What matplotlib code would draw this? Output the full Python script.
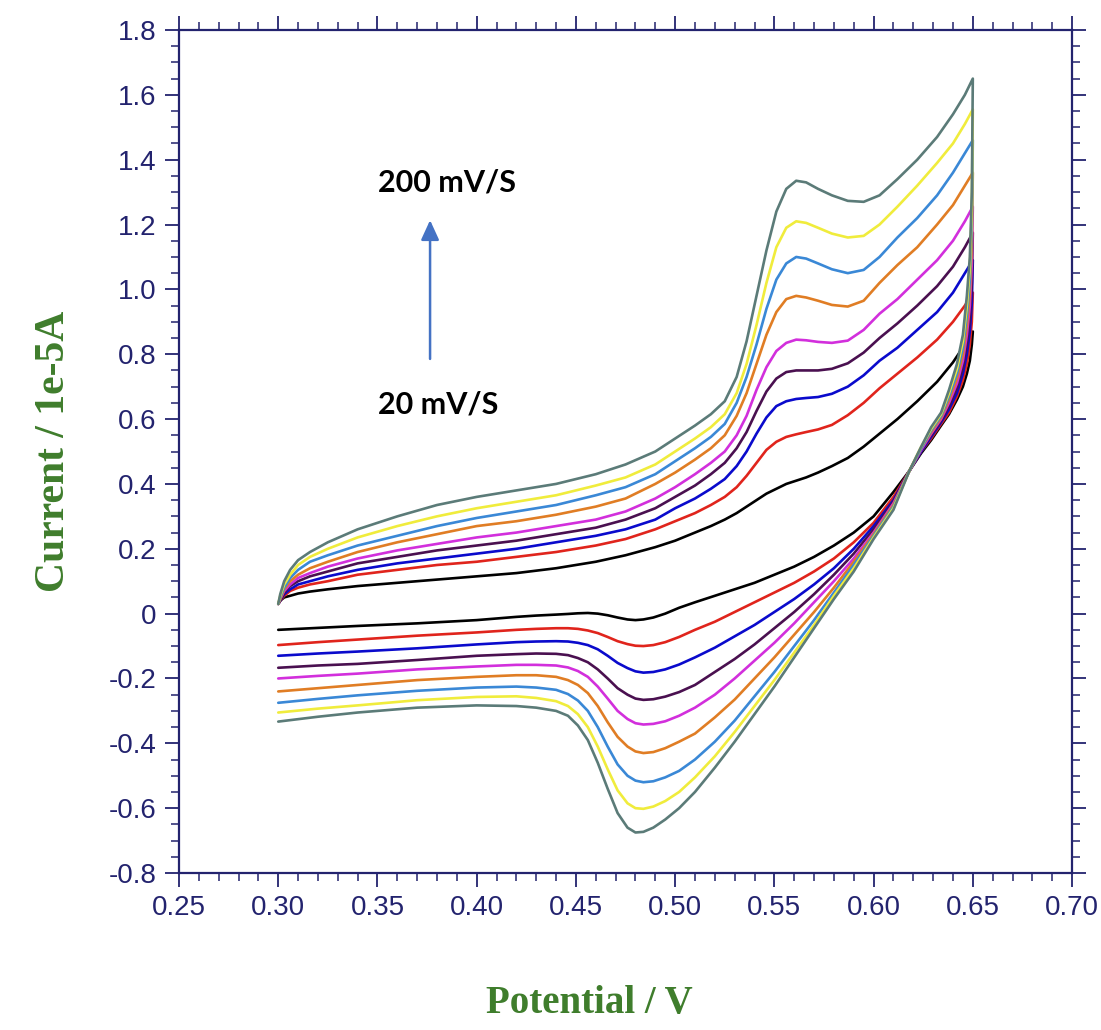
import numpy as np
import matplotlib
matplotlib.use("Agg")
import matplotlib.pyplot as plt
from matplotlib.ticker import MultipleLocator, FuncFormatter

# ---------------- data ----------------
scan_rates = ["20 mV/S", "40", "60", "80", "100", "120", "140", "160", "200 mV/S"]
colors = ["#000000", "#e0241c", "#0a0acc", "#4a1050", "#d22fdc",
          "#e07d24", "#3a88d6", "#f0ec3c", "#5b7b78"]

# forward (anodic) sweep potentials, V
x_fwd = [0.300, 0.301, 0.303, 0.306, 0.310, 0.316, 0.325, 0.340, 0.360, 0.380,
         0.400, 0.420, 0.440,
         0.460, 0.475, 0.490, 0.500, 0.510, 0.518, 0.525, 0.531, 0.536, 0.541,
         0.546, 0.551, 0.556, 0.561, 0.566, 0.572, 0.579, 0.587, 0.595, 0.603,
         0.612, 0.622, 0.632, 0.640, 0.646, 0.650]

i_fwd_black = [0.03, 0.04, 0.05, 0.055, 0.062, 0.068, 0.075, 0.085, 0.095, 0.105,
               0.115, 0.125, 0.14,
               0.16, 0.18, 0.205, 0.225, 0.25, 0.27, 0.29, 0.31, 0.33, 0.35,
               0.37, 0.385, 0.40, 0.41, 0.42, 0.435, 0.455, 0.48, 0.515, 0.555,
               0.60, 0.655, 0.715, 0.775, 0.83, 0.87]
i_fwd_red = [0.03, 0.04, 0.055, 0.07, 0.08, 0.09, 0.10, 0.12, 0.135, 0.15,
             0.16, 0.175, 0.19,
             0.21, 0.23, 0.26, 0.285, 0.31, 0.335, 0.36, 0.39, 0.425, 0.465,
             0.505, 0.53, 0.545, 0.553, 0.56, 0.568, 0.582, 0.612, 0.65, 0.695,
             0.74, 0.79, 0.845, 0.90, 0.95, 0.99]
i_fwd_blue = [0.03, 0.04, 0.06, 0.075, 0.09, 0.10, 0.115, 0.135, 0.155, 0.17,
              0.185, 0.20, 0.22,
              0.24, 0.26, 0.29, 0.325, 0.355, 0.385, 0.415, 0.455, 0.50, 0.555,
              0.605, 0.64, 0.655, 0.662, 0.665, 0.668, 0.678, 0.70, 0.735, 0.78,
              0.82, 0.875, 0.93, 0.99, 1.05, 1.09]
i_fwd_purple = [0.03, 0.04, 0.065, 0.085, 0.10, 0.115, 0.13, 0.155, 0.175, 0.195,
                0.21, 0.225, 0.245,
                0.265, 0.29, 0.325, 0.36, 0.395, 0.43, 0.465, 0.51, 0.56, 0.625,
                0.685, 0.725, 0.745, 0.75, 0.75, 0.75, 0.755, 0.772, 0.805, 0.85,
                0.895, 0.95, 1.01, 1.07, 1.13, 1.175]
i_fwd_magenta = [0.03, 0.045, 0.07, 0.09, 0.11, 0.125, 0.145, 0.17, 0.195, 0.215,
                 0.235, 0.25, 0.27,
                 0.29, 0.315, 0.355, 0.39, 0.43, 0.465, 0.50, 0.55, 0.61, 0.69,
                 0.76, 0.81, 0.835, 0.845, 0.843, 0.838, 0.835, 0.842, 0.875, 0.925,
                 0.97, 1.03, 1.09, 1.15, 1.21, 1.255]
i_fwd_orange = [0.03, 0.045, 0.075, 0.10, 0.12, 0.14, 0.16, 0.19, 0.22, 0.245,
                0.27, 0.285, 0.305,
                0.33, 0.355, 0.40, 0.435, 0.475, 0.51, 0.55, 0.61, 0.68, 0.77,
                0.86, 0.93, 0.97, 0.98, 0.975, 0.965, 0.952, 0.947, 0.965, 1.02,
                1.075, 1.13, 1.20, 1.26, 1.32, 1.36]
i_fwd_lblue = [0.03, 0.05, 0.08, 0.11, 0.135, 0.16, 0.18, 0.21, 0.24, 0.27,
               0.295, 0.315, 0.335,
               0.365, 0.39, 0.43, 0.47, 0.51, 0.545, 0.585, 0.65, 0.73, 0.83,
               0.94, 1.03, 1.08, 1.10, 1.095, 1.08, 1.062, 1.05, 1.06, 1.10,
               1.16, 1.22, 1.29, 1.36, 1.42, 1.46]
i_fwd_yellow = [0.03, 0.055, 0.09, 0.12, 0.15, 0.175, 0.20, 0.235, 0.27, 0.30,
                0.325, 0.345, 0.365,
                0.395, 0.42, 0.46, 0.50, 0.54, 0.575, 0.615, 0.68, 0.77, 0.89,
                1.02, 1.13, 1.19, 1.21, 1.205, 1.19, 1.172, 1.16, 1.165, 1.20,
                1.255, 1.32, 1.39, 1.45, 1.51, 1.555]
i_fwd_gray = [0.03, 0.06, 0.10, 0.135, 0.165, 0.19, 0.22, 0.26, 0.30, 0.335,
              0.36, 0.38, 0.40,
              0.43, 0.46, 0.50, 0.54, 0.58, 0.615, 0.655, 0.73, 0.84, 0.98,
              1.12, 1.24, 1.31, 1.335, 1.33, 1.31, 1.29, 1.273, 1.27, 1.29,
              1.34, 1.40, 1.47, 1.54, 1.60, 1.65]

# reverse (cathodic) sweep potentials, V
x_rev = [0.650, 0.6495, 0.6485, 0.647, 0.645, 0.642, 0.638, 0.634, 0.629, 0.624,
         0.618, 0.610,
         0.600, 0.590, 0.580, 0.570, 0.560, 0.550, 0.540, 0.530, 0.520,
         0.510, 0.502, 0.495, 0.489, 0.484, 0.480, 0.476, 0.471, 0.466, 0.461,
         0.456, 0.451, 0.446, 0.440, 0.430, 0.420,
         0.400, 0.370, 0.340, 0.320, 0.300]

i_rev_black = [0.87, 0.83, 0.78, 0.74, 0.70, 0.66, 0.615, 0.58, 0.535, 0.495,
               0.44, 0.375,
               0.30, 0.25, 0.21, 0.175, 0.145, 0.12, 0.095, 0.075, 0.055,
               0.035, 0.018, 0.0, -0.012, -0.018, -0.02, -0.018, -0.012, -0.005, 0.0,
               0.002, 0.001, -0.001, -0.003, -0.006, -0.01,
               -0.02, -0.03, -0.038, -0.044, -0.05]
i_rev_red = [0.99, 0.90, 0.83, 0.77, 0.72, 0.67, 0.62, 0.585, 0.54, 0.50,
             0.44, 0.36,
             0.28, 0.22, 0.17, 0.13, 0.095, 0.065, 0.035, 0.005, -0.025,
             -0.05, -0.072, -0.088, -0.097, -0.10, -0.099, -0.094, -0.085, -0.072, -0.06,
             -0.052, -0.047, -0.045, -0.045, -0.047, -0.05,
             -0.058, -0.068, -0.08, -0.088, -0.097]
i_rev_blue = [1.09, 0.96, 0.87, 0.80, 0.74, 0.68, 0.63, 0.59, 0.545, 0.50,
              0.44, 0.35,
              0.27, 0.20, 0.14, 0.09, 0.045, 0.005, -0.035, -0.07, -0.105,
              -0.135, -0.157, -0.172, -0.18, -0.182, -0.178, -0.168, -0.152, -0.13, -0.11,
              -0.097, -0.09, -0.086, -0.085, -0.086, -0.088,
              -0.095, -0.107, -0.117, -0.123, -0.13]
i_rev_purple = [1.175, 1.02, 0.91, 0.83, 0.76, 0.695, 0.64, 0.595, 0.55, 0.505,
                0.44, 0.345,
                0.26, 0.185, 0.12, 0.06, 0.005, -0.045, -0.095, -0.14, -0.18,
                -0.22, -0.242, -0.256, -0.264, -0.266, -0.262, -0.25, -0.23, -0.20, -0.172,
                -0.15, -0.137, -0.128, -0.124, -0.123, -0.125,
                -0.13, -0.143, -0.155, -0.16, -0.167]
i_rev_magenta = [1.255, 1.08, 0.95, 0.86, 0.78, 0.71, 0.65, 0.60, 0.555, 0.505,
                 0.44, 0.34,
                 0.25, 0.17, 0.10, 0.035, -0.03, -0.09, -0.145, -0.20, -0.25,
                 -0.29, -0.315, -0.332, -0.34, -0.342, -0.338, -0.325, -0.30, -0.262, -0.225,
                 -0.195, -0.177, -0.166, -0.16, -0.158, -0.158,
                 -0.163, -0.172, -0.185, -0.192, -0.20]
i_rev_orange = [1.36, 1.14, 0.99, 0.89, 0.80, 0.725, 0.66, 0.605, 0.56, 0.51,
                0.44, 0.335,
                0.245, 0.16, 0.08, 0.005, -0.065, -0.135, -0.20, -0.265, -0.32,
                -0.37, -0.395, -0.415, -0.427, -0.43, -0.425, -0.41, -0.38, -0.335, -0.285,
                -0.245, -0.22, -0.205, -0.195, -0.19, -0.19,
                -0.195, -0.205, -0.22, -0.23, -0.24]
i_rev_lblue = [1.46, 1.20, 1.03, 0.92, 0.82, 0.74, 0.67, 0.61, 0.565, 0.51,
               0.44, 0.33,
               0.24, 0.15, 0.065, -0.02, -0.10, -0.18, -0.255, -0.33, -0.395,
               -0.45, -0.485, -0.505, -0.517, -0.52, -0.515, -0.50, -0.465, -0.41, -0.35,
               -0.30, -0.268, -0.248, -0.235, -0.228, -0.225,
               -0.228, -0.238, -0.252, -0.263, -0.275]
i_rev_yellow = [1.555, 1.25, 1.07, 0.95, 0.84, 0.755, 0.68, 0.615, 0.57, 0.515,
                0.44, 0.325,
                0.235, 0.14, 0.055, -0.035, -0.12, -0.205, -0.285, -0.365, -0.44,
                -0.505, -0.55, -0.578, -0.595, -0.602, -0.60, -0.585, -0.545, -0.48, -0.41,
                -0.35, -0.31, -0.285, -0.27, -0.26, -0.255,
                -0.257, -0.267, -0.283, -0.293, -0.305]
i_rev_gray = [1.65, 1.30, 1.10, 0.98, 0.86, 0.77, 0.69, 0.62, 0.575, 0.515,
              0.44, 0.32,
              0.23, 0.13, 0.045, -0.045, -0.135, -0.225, -0.31, -0.395, -0.475,
              -0.55, -0.60, -0.635, -0.66, -0.673, -0.675, -0.66, -0.615, -0.54, -0.46,
              -0.39, -0.345, -0.315, -0.30, -0.29, -0.285,
              -0.283, -0.29, -0.305, -0.318, -0.333]

forward = [i_fwd_black, i_fwd_red, i_fwd_blue, i_fwd_purple, i_fwd_magenta,
           i_fwd_orange, i_fwd_lblue, i_fwd_yellow, i_fwd_gray]
reverse = [i_rev_black, i_rev_red, i_rev_blue, i_rev_purple, i_rev_magenta,
           i_rev_orange, i_rev_lblue, i_rev_yellow, i_rev_gray]

x_ticks = [0.25, 0.30, 0.35, 0.40, 0.45, 0.50, 0.55, 0.60, 0.65, 0.70]
y_ticks = [-0.8, -0.6, -0.4, -0.2, 0, 0.2, 0.4, 0.6, 0.8, 1.0, 1.2, 1.4, 1.6, 1.8]

# ---------------- figure ----------------
navy = "#23236e"
green = "#3f7d2c"

fig = plt.figure(figsize=(11.01, 10.30), dpi=100)
ax = fig.add_axes([0.1626, 0.1524, 0.8111, 0.8185])

for fw, rv, c in zip(forward, reverse, colors):
    n = min(len(fw), len(x_fwd))
    m = min(len(rv), len(x_rev))
    xs = np.concatenate([x_fwd[:n], x_rev[:m]])
    ys = np.concatenate([fw[:n], rv[:m]])
    ax.plot(xs, ys, color=c, lw=1.9, solid_joinstyle="round", solid_capstyle="round")

ax.set_xlim(0.25, 0.70)
ax.set_ylim(-0.8, 1.8)
ax.set_xticks(x_ticks)
ax.set_yticks(y_ticks)
ax.xaxis.set_minor_locator(MultipleLocator(0.01))
ax.yaxis.set_minor_locator(MultipleLocator(0.05))
ax.xaxis.set_major_formatter(FuncFormatter(lambda v, p: f"{v:.2f}"))
ax.yaxis.set_major_formatter(FuncFormatter(lambda v, p: "0" if abs(v) < 1e-9 else f"{v:.1f}"))

for s in ax.spines.values():
    s.set_color(navy)
    s.set_linewidth(1.6)

ax.tick_params(which="both", direction="out", colors=navy, top=True, right=True)
ax.tick_params(which="major", length=10, width=1.3, labelsize=20, pad=6)
ax.tick_params(which="minor", length=6, width=1.1)
for lab in ax.get_xticklabels() + ax.get_yticklabels():
    lab.set_fontfamily("Liberation Sans")
    lab.set_color(navy)

ax.set_xlabel("Potential / V", fontsize=28, fontweight="bold", color=green,
              fontfamily="Liberation Serif")
ax.xaxis.set_label_coords(0.46, -0.133)
ax.set_ylabel("Current / 1e-5A", fontsize=30, fontweight="bold", color=green,
              fontfamily="Liberation Serif", labelpad=26)

# annotations
ax.annotate("", xy=(0.3765, 1.222), xytext=(0.3765, 0.777),
            arrowprops=dict(arrowstyle="-|>,head_width=0.55,head_length=1.2",
                            color="#4472c4", lw=1.8))
ax.text(0.3503, 1.33, "200 mV/S", fontsize=22, fontweight="bold", fontfamily="Lato",
        ha="left", va="center", color="black")
ax.text(0.3503, 0.645, "20 mV/S", fontsize=22, fontweight="bold", fontfamily="Lato",
        ha="left", va="center", color="black")

fig.savefig("out.png", dpi=100)
